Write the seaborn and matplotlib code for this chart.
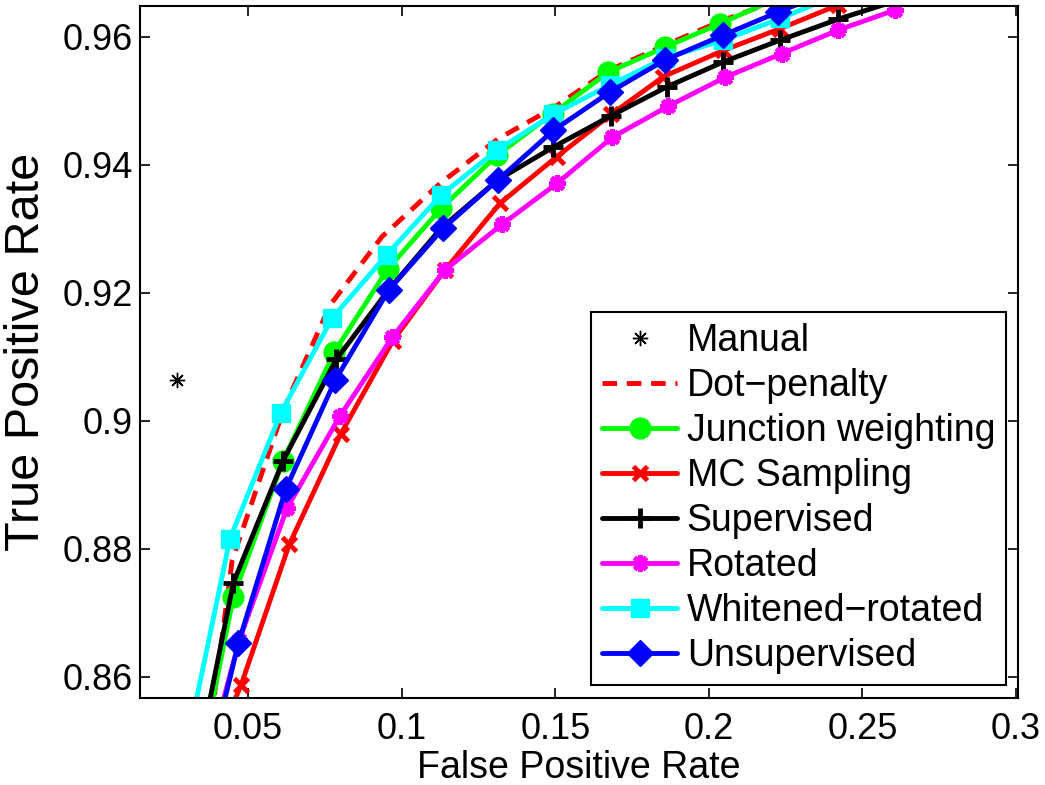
import numpy as np
import pandas as pd
import matplotlib
matplotlib.use("Agg")
import matplotlib.pyplot as plt
import seaborn as sns

# ---- data ----
manual_fpr = [0.0268]
manual_tpr = [0.9064]

dot_fpr = [0.0380, 0.0448, 0.0617, 0.0767, 0.0936, 0.1125, 0.1314, 0.1493, 0.1675, 0.1857, 0.2040, 0.2222]
dot_tpr = [0.8534, 0.8782, 0.9020, 0.9181, 0.9288, 0.9371, 0.9441, 0.9489, 0.9548, 0.9587, 0.9625, 0.9657]

junc_fpr = [0.0300, 0.0452, 0.0614, 0.0781, 0.0954, 0.1128, 0.1310, 0.1491, 0.1673, 0.1857, 0.2037, 0.2222]
junc_tpr = [0.8361, 0.8725, 0.8938, 0.9108, 0.9237, 0.9332, 0.9415, 0.9480, 0.9545, 0.9584, 0.9621, 0.9660]

mc_fpr = [0.0400, 0.0477, 0.0634, 0.0802, 0.0971, 0.1141, 0.1320, 0.1505, 0.1682, 0.1852, 0.2047, 0.2232, 0.2421, 0.2606]
mc_tpr = [0.8500, 0.8587, 0.8807, 0.8980, 0.9125, 0.9236, 0.9340, 0.9413, 0.9479, 0.9538, 0.9579, 0.9613, 0.9650, 0.9681]

sup_fpr = [0.0344, 0.0452, 0.0614, 0.0787, 0.0956, 0.1128, 0.1311, 0.1494, 0.1682, 0.1863, 0.2047, 0.2232, 0.2422, 0.2606]
sup_tpr = [0.8489, 0.8747, 0.8938, 0.9096, 0.9204, 0.9301, 0.9376, 0.9428, 0.9477, 0.9522, 0.9561, 0.9595, 0.9628, 0.9656]

rot_fpr = [0.0395, 0.0471, 0.0626, 0.0798, 0.0970, 0.1141, 0.1326, 0.1505, 0.1685, 0.1868, 0.2053, 0.2237, 0.2422, 0.2606]
rot_tpr = [0.8520, 0.8657, 0.8863, 0.9007, 0.9131, 0.9236, 0.9307, 0.9371, 0.9443, 0.9492, 0.9537, 0.9574, 0.9611, 0.9642]

wr_fpr = [0.0300, 0.0441, 0.0606, 0.0774, 0.0952, 0.1128, 0.1310, 0.1493, 0.1678, 0.1857, 0.2047, 0.2232, 0.2415]
wr_tpr = [0.8492, 0.8816, 0.9012, 0.9161, 0.9260, 0.9353, 0.9423, 0.9479, 0.9525, 0.9567, 0.9595, 0.9629, 0.9665]

uns_fpr = [0.0393, 0.0468, 0.0623, 0.0784, 0.0957, 0.1135, 0.1312, 0.1494, 0.1678, 0.1857, 0.2047, 0.2226, 0.2404]
uns_tpr = [0.8503, 0.8652, 0.8894, 0.9064, 0.9204, 0.9301, 0.9376, 0.9454, 0.9514, 0.9564, 0.9603, 0.9639, 0.9673]

x_ticks = [0.05, 0.1, 0.15, 0.2, 0.25, 0.3]
x_ticklabels = ["0.05", "0.1", "0.15", "0.2", "0.25", "0.3"]
y_ticks = [0.86, 0.88, 0.9, 0.92, 0.94, 0.96]
y_ticklabels = ["0.86", "0.88", "0.9", "0.92", "0.94", "0.96"]

# ---- style ----
sns.set_theme(style="white")
plt.rcParams['font.family'] = ['Liberation Sans', 'DejaVu Sans']
plt.rcParams['text.color'] = 'black'
plt.rcParams['axes.labelcolor'] = 'black'
plt.rcParams['xtick.color'] = 'black'
plt.rcParams['ytick.color'] = 'black'

fig = plt.figure(figsize=(10.45, 7.85), dpi=100)
ax = fig.add_axes([0.134, 0.111, 0.840, 0.881])

LW = 3.5

def draw(xv, yv, label, color, **kw):
    sns.lineplot(x=xv, y=yv, ax=ax, sort=False, estimator=None, color=color,
                 label=label, **kw)

# Manual (marker only)
ax.plot(manual_fpr, manual_tpr, linestyle='none', marker=(8, 2, 0), markersize=11,
        markeredgewidth=1.0, color='black', label='Manual')

draw(dot_fpr, dot_tpr, 'Dot\u2212penalty', '#ff0000', linewidth=LW)
ax.lines[-1].set_dashes((3, 2))

draw(junc_fpr, junc_tpr, 'Junction weighting', '#00ff00', linewidth=LW,
     marker='o', markersize=15, markeredgecolor='#00ff00', markerfacecolor='#00ff00',
     markeredgewidth=1)
draw(mc_fpr, mc_tpr, 'MC Sampling', '#ff0000', linewidth=LW,
     marker='x', markersize=10, markeredgecolor='#ff0000', markeredgewidth=3.5)
draw(sup_fpr, sup_tpr, 'Supervised', 'black', linewidth=LW,
     marker='+', markersize=15, markeredgecolor='black', markeredgewidth=3.5)
draw(rot_fpr, rot_tpr, 'Rotated', '#ff00ff', linewidth=LW,
     marker=(8, 2, 0), markersize=12, markeredgecolor='#ff00ff', markeredgewidth=3.5)
draw(wr_fpr, wr_tpr, 'Whitened\u2212rotated', '#00ffff', linewidth=LW,
     marker='s', markersize=13, markeredgecolor='#00ffff', markerfacecolor='#00ffff',
     markeredgewidth=1)
draw(uns_fpr, uns_tpr, 'Unsupervised', '#0000ff', linewidth=LW,
     marker='D', markersize=13, markeredgecolor='#0000ff', markerfacecolor='#0000ff',
     markeredgewidth=1)

ax.set_xlim(0.0148, 0.3006)
ax.set_ylim(0.8567, 0.9648)
ax.set_xticks(x_ticks)
ax.set_xticklabels(x_ticklabels)
ax.set_yticks(y_ticks)
ax.set_yticklabels(y_ticklabels)
ax.tick_params(direction='in', length=7, width=1.2, top=True, right=True,
               bottom=True, left=True, colors='black', labelsize=26)
ax.tick_params(axis='x', pad=10)
ax.tick_params(axis='y', pad=5)
for s in ax.spines.values():
    s.set_color('black')
    s.set_linewidth(1.5)

ax.set_xlabel('False Positive Rate', fontsize=27, labelpad=2)
ax.set_ylabel('True Positive Rate', fontsize=35)
ax.yaxis.set_label_coords(-0.104, 0.5)

leg = ax.legend(loc='lower right', bbox_to_anchor=(0.987, 0.018), borderaxespad=0,
                fontsize=27, frameon=True, fancybox=False, edgecolor='black',
                framealpha=1, handlelength=2.0, handletextpad=0.25, labelspacing=0.24,
                borderpad=0.3)
leg.get_frame().set_linewidth(1.5)

fig.savefig('out.png', dpi=100)
